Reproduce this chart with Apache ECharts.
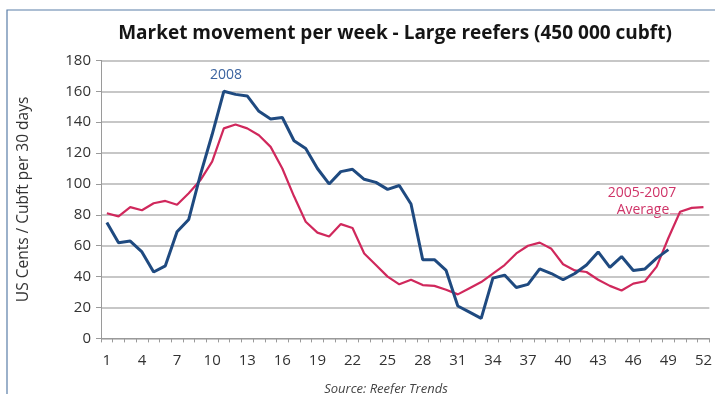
<!DOCTYPE html>
<html>
<head>
<meta charset="utf-8">
<script src="https://cdn.jsdelivr.net/npm/echarts@6/dist/echarts.min.js"></script>
<style>
html,body{margin:0;padding:0;background:#fff;}
#chart{width:715px;height:394px;}
</style>
</head>
<body>
<div id="chart"></div>
<script>
var weeks = ['1','2','3','4','5','6','7','8','9','10','11','12','13','14','15','16','17','18','19','20','21','22','23','24','25','26','27','28','29','30','31','32','33','34','35','36','37','38','39','40','41','42','43','44','45','46','47','48','49','50','51','52'];
var values2008 = [75,62,63,56,43,47,69,77,106,132,160,158,157,147,142,143,128,123,110,100,108,109.5,103,101,96.5,99,87,51,51,44,21,17,13,39,41,33,35,45,42,38,42,47.5,56,46,53,44,45,52,57.5];
var valuesAvg = [81,79,85,83,87.5,89,86.5,94,102.5,114.5,136,138.5,136,131.5,124,110,92,75.5,68.5,66,74,71.5,55,47.5,40,35,38,34.5,34,31.5,28.5,32.5,36.5,42,47.5,55,60,62,58,48,44,43,38,34,31,35.5,37,46.5,65,82,84.5,85];
var yTicks = [0,20,40,60,80,100,120,140,160,180];

var FONT = '"Open Sans", "Liberation Sans", sans-serif';
var chart = echarts.init(document.getElementById('chart'), null, {renderer:'canvas'});
chart.setOption({
  animation:false,
  backgroundColor:'#fff',
  title:{
    text:'Market movement per week - Large reefers (450 000 cubft)',
    left:390, top:19, textAlign:'center',
    textStyle:{fontFamily:FONT, fontWeight:'bold', fontSize:19, color:'#151515'}
  },
  grid:{left:101, right:1, top:60.4, bottom:55.6, containLabel:false},
  xAxis:{
    type:'category', data:weeks, boundaryGap:true,
    axisLine:{lineStyle:{color:'#9a9a9a', width:1}},
    axisTick:{show:true, length:4, interval:0, lineStyle:{color:'#9a9a9a'}},
    axisLabel:{interval:2, margin:15, fontFamily:FONT, fontSize:15, color:'#333'},
    splitLine:{show:false}
  },
  yAxis:{
    type:'value', min:yTicks[0], max:yTicks[yTicks.length-1], interval:20,
    name:'US Cents / Cubft per 30 days', nameLocation:'middle', nameGap:69, nameRotate:90,
    nameTextStyle:{fontFamily:FONT, fontSize:15.5, color:'#333'},
    axisLine:{show:true, lineStyle:{color:'#9a9a9a'}},
    axisTick:{show:true, length:5, lineStyle:{color:'#9a9a9a'}},
    axisLabel:{margin:10, fontFamily:FONT, fontSize:15, color:'#333'},
    splitLine:{show:true, lineStyle:{color:'#b4b4b4', width:1.5}}
  },
  series:[
    {name:'2005-2007 Average', type:'line', data:valuesAvg, symbol:'none', z:2,
     lineStyle:{color:'#d0285c', width:2.2}},
    {name:'2008', type:'line', data:values2008, symbol:'none', z:3,
     lineStyle:{color:'#1f4a80', width:3}}
  ],
  graphic:[
    {type:'rect', shape:{x:7, y:10, width:800, height:500}, style:{fill:'none', stroke:'#5a7ea8', lineWidth:1.2}, silent:true, z:-1},
    {type:'text', x:226, y:75, style:{text:'2008', fontFamily:FONT, fontSize:14, fill:'#3a63a0', align:'center', verticalAlign:'middle'}},
    {type:'text', x:642, y:193, style:{text:'2005-2007', fontFamily:FONT, fontSize:14, fill:'#cf3468', align:'center', verticalAlign:'middle'}},
    {type:'text', x:643, y:210, style:{text:'Average', fontFamily:FONT, fontSize:14, fill:'#cf3468', align:'center', verticalAlign:'middle'}},
    {type:'line', shape:{x1:670, y1:214, x2:683, y2:214}, style:{stroke:'#cf3468', lineWidth:1}},
    {type:'text', x:386, y:389, style:{text:'Source: Reefer Trends', fontFamily:FONT, fontStyle:'italic', fontSize:13, fill:'#444', align:'center', verticalAlign:'middle'}}
  ]
});
</script>
</body>
</html>
